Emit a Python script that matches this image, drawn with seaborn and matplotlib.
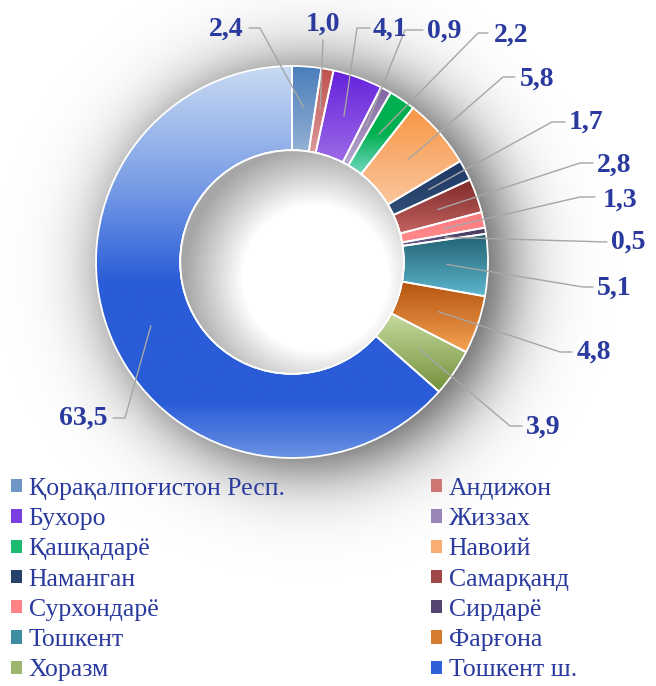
import numpy as np
import matplotlib
matplotlib.use("Agg")
import matplotlib.pyplot as plt
import seaborn as sns
from matplotlib.patches import Circle, Patch
from matplotlib.colors import LinearSegmentedColormap

# -------------------------
# DATA
# -------------------------
regions = ["Қорақалпоғистон Респ.", "Андижон", "Бухоро", "Жиззах", "Қашқадарё",
           "Навоий", "Наманган", "Самарқанд", "Сурхондарё", "Сирдарё",
           "Тошкент", "Фарғона", "Хоразм", "Тошкент ш."]
shares = [2.4, 1.0, 4.1, 0.9, 2.2, 5.8, 1.7, 2.8, 1.3, 0.5, 5.1, 4.8, 3.9, 63.5]

# slice gradients, top -> bottom
gradients = [
    ["#4a7ebb", "#93b1d3"],
    ["#c0504d", "#dc9a98"],
    ["#6420dc", "#9c6ae6"],
    ["#8064a2", "#b8a9cd"],
    ["#00b050", "#00b050", "#72d7c0"],
    ["#f79646", "#fbc69c"],
    ["#1f3864", "#2f4e75"],
    ["#7f2a2a", "#c26362"],
    ["#ff7a7e", "#ff8a8d"],
    ["#3f3151", "#6c5c8f"],
    ["#215f71", "#5cb7cd"],
    ["#b45310", "#f5a252"],
    ["#c6da9f", "#72903a"],
    None,
]
big_stops = [(0.0, "#c8daf2"), (0.3, "#7a9ee6"), (0.55, "#2a5cd8"),
             (0.86, "#2a5cd8"), (1.0, "#6a91e2")]
legend_colors = ["#6f97c6", "#cf7573", "#7a3fe0", "#9a86b8", "#1dba72", "#f9ad70",
                 "#26426a", "#a04848", "#ff8286", "#544570", "#3c8ca2", "#d67a30",
                 "#9db56c", "#2f60d9"]

# -------------------------
# LAYOUT (pixels): leader elbow, leader end, text anchor, alignment
# -------------------------
label_layout = [
    ((260, 28), (249, 28), (244, 29), "right"),
    ((323, 40), (323, 40), (323, 24), "center"),
    ((357, 28), (370, 28), (373, 29), "left"),
    ((405, 30), (423, 30), (427, 31), "left"),
    ((478, 33), (488, 33), (494, 35), "left"),
    ((503, 77), (515, 77), (520, 79), "left"),
    ((552, 122), (565, 122), (569, 122), "left"),
    ((580, 163), (593, 163), (597, 165), "left"),
    ((580, 197), (595, 197), (603, 200), "left"),
    ((607, 242), (607, 242), (611, 242), "left"),
    ((583, 287), (593, 287), (597, 288), "left"),
    ((560, 352), (572, 352), (577, 352), "left"),
    ((510, 426), (522, 426), (526, 427), "left"),
    ((125, 418), (113, 418), (108, 418), "right"),
]

W, H = 656, 686
CX, CY, RPX = 292, 262, 196
R_IN = 0.57


def px(p):
    return ((p[0] - CX) / RPX, (CY - p[1]) / RPX)


sns.set_style("white")
plt.rcParams["font.family"] = ["Liberation Serif", "DejaVu Serif"]
text_color = "#2a3a9e"

fig = plt.figure(figsize=(W / 100, H / 100), dpi=100)
ax = fig.add_axes([0, 0, 1, 1])
ax.set_axis_off()
xlim = (-CX / RPX, (W - CX) / RPX)
ylim = (-(H - CY) / RPX, CY / RPX)

# -------------------------
# OUTER SHADOW (soft, shifted right)
# -------------------------
gx = np.linspace(xlim[0], xlim[1], 500)
gy = np.linspace(ylim[1], ylim[0], 520)
XX, YY = np.meshgrid(gx, gy)
d = np.hypot(XX - 0.08, YY + 0.03)
a = 0.75 / (1 + np.exp(-1.7 * (1.0 - d) / 0.19))
shadow = np.zeros(XX.shape + (4,))
shadow[..., 3] = a
ax.imshow(shadow, extent=[xlim[0], xlim[1], ylim[0], ylim[1]],
          aspect="auto", zorder=0, interpolation="bilinear")

# -------------------------
# DONUT
# -------------------------
wedges, _ = ax.pie(shares, startangle=90, counterclock=False, radius=1,
                   wedgeprops=dict(width=1 - R_IN, edgecolor="white",
                                   linewidth=1.3, facecolor="none", zorder=3))

grad = np.linspace(0, 1, 256).reshape(-1, 1)
for w, g in zip(wedges, gradients):
    th = np.radians(np.linspace(w.theta1, w.theta2, 200))
    xs = np.concatenate([np.cos(th), R_IN * np.cos(th)])
    ys = np.concatenate([np.sin(th), R_IN * np.sin(th)])
    if g is None:
        cmap = LinearSegmentedColormap.from_list("big", big_stops)
    else:
        cmap = sns.blend_palette(g, as_cmap=True)
    im = ax.imshow(grad, cmap=cmap, extent=[xs.min(), xs.max(), ys.min(), ys.max()],
                   origin="upper", aspect="auto", zorder=2)
    im.set_clip_path(w)

# hole with inner shadow
hole = Circle((0, 0), R_IN, facecolor="white", edgecolor="white", lw=1.3, zorder=4)
ax.add_patch(hole)
d2 = np.hypot(XX - 0.12, YY + 0.08)
a2 = 0.5 * np.clip((d2 - (R_IN - 0.2)) / 0.3, 0, 1)
inner = np.zeros(XX.shape + (4,))
inner[..., :3] = 0.3
inner[..., 3] = a2
im2 = ax.imshow(inner, extent=[xlim[0], xlim[1], ylim[0], ylim[1]],
                aspect="auto", zorder=5, interpolation="bilinear")
im2.set_clip_path(hole)
ax.add_patch(Circle((0, 0), R_IN, facecolor="none", edgecolor="white", lw=1.3, zorder=6))

# -------------------------
# LABELS
# -------------------------
for w, v, (elbow, end, tpos, ha) in zip(wedges, shares, label_layout):
    mid = np.radians((w.theta1 + w.theta2) / 2)
    start = (0.79 * np.cos(mid), 0.79 * np.sin(mid))
    e, n, t = px(elbow), px(end), px(tpos)
    ax.plot([start[0], e[0], n[0]], [start[1], e[1], n[1]],
            color="#a6a6a6", lw=1, zorder=7)
    ax.text(t[0], t[1], f"{v:.1f}".replace(".", ","), ha=ha, va="center",
            fontsize=20, fontweight="bold", color=text_color, zorder=8)

ax.set_xlim(xlim)
ax.set_ylim(ylim)

# -------------------------
# LEGEND (two columns, row-major order)
# -------------------------
handles = [Patch(facecolor=c, edgecolor="none") for c in legend_colors]
for col, x0 in [(0, 11 / W), (1, 431 / W)]:
    idx = list(range(col, len(regions), 2))
    fig.legend([handles[i] for i in idx], [regions[i] for i in idx],
               loc="upper left", bbox_to_anchor=(x0, 1 - 478 / H),
               frameon=False, fontsize=18.5, handlelength=0.42, handleheight=0.42,
               handletextpad=0.27, labelspacing=0.32, borderpad=0,
               borderaxespad=0, labelcolor=text_color)

fig.savefig("out.png", dpi=100)
